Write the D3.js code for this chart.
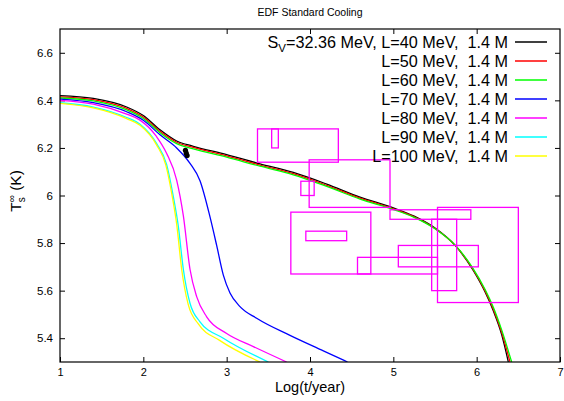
<!DOCTYPE html>
<html>
<head>
<meta charset="utf-8">
<script src="https://cdn.jsdelivr.net/npm/d3@7"></script>
<style>
  body { margin: 0; background: #fff; }
  svg { font-family: "Liberation Sans", Arial, sans-serif; }
</style>
</head>
<body>
<svg id="chart" width="564" height="401"></svg>
<script>
/* Chart data */
const xTicks = [1, 2, 3, 4, 5, 6, 7];
const yTicks = [5.4, 5.6, 5.8, 6.0, 6.2, 6.4, 6.6];

const seriesNames = ["L40", "L50", "L60", "L70", "L80", "L90", "L100"];
const seriesColors = ["#000000", "#ff0000", "#00ff00", "#0000ff", "#ff00ff", "#00ffff", "#ffff00"];
const legendLabels = [
  "=32.36 MeV, L=40 MeV,  1.4 M",
  "L=50 MeV,  1.4 M",
  "L=60 MeV,  1.4 M",
  "L=70 MeV,  1.4 M",
  "L=80 MeV,  1.4 M",
  "L=90 MeV,  1.4 M",
  "L=100 MeV,  1.4 M"
];

// [log t, log Ts]
const curveL40 = [[1.0,6.42],[1.4,6.408],[1.8,6.372],[2.0,6.336],[2.2,6.276],[2.4,6.229],[2.6,6.207],[3.0,6.172],[3.4,6.133],[3.8,6.097],[4.2,6.048],[4.6,5.993],[5.0,5.948],[5.25,5.913],[5.5,5.863],[5.75,5.787],[5.95,5.69],[6.1,5.595],[6.2,5.515],[6.3,5.415],[6.38,5.3]];
const curveL50 = [[1.0,6.415],[1.4,6.403],[1.8,6.366],[2.0,6.330],[2.2,6.270],[2.4,6.224],[2.6,6.202],[3.0,6.167],[3.4,6.128],[3.8,6.092],[4.2,6.043],[4.6,5.989],[5.0,5.944],[5.25,5.910],[5.5,5.861],[5.75,5.787],[5.95,5.693],[6.1,5.600],[6.2,5.522],[6.3,5.425],[6.40,5.3]];
const curveL60 = [[1.0,6.41],[1.4,6.398],[1.8,6.360],[2.0,6.324],[2.2,6.264],[2.4,6.218],[2.6,6.196],[3.0,6.161],[3.4,6.123],[3.8,6.087],[4.2,6.038],[4.6,5.985],[5.0,5.941],[5.25,5.908],[5.5,5.860],[5.75,5.788],[5.95,5.697],[6.1,5.606],[6.2,5.530],[6.3,5.435],[6.42,5.3]];
const curveL70 = [[1.0,6.405],[1.4,6.390],[1.8,6.352],[2.0,6.316],[2.2,6.255],[2.4,6.200],[2.56,6.135],[2.68,6.062],[2.8,5.91],[2.88,5.79],[2.96,5.665],[3.04,5.59],[3.16,5.533],[3.36,5.484],[3.76,5.412],[4.16,5.347],[4.45,5.30]];
const curveL80 = [[1.0,6.40],[1.4,6.384],[1.8,6.342],[1.96,6.317],[2.16,6.247],[2.28,6.177],[2.4,6.065],[2.48,5.915],[2.56,5.69],[2.64,5.575],[2.76,5.49],[3.0,5.42],[3.32,5.365],[3.72,5.30]];
const curveL90 = [[1.0,6.39],[1.4,6.372],[1.8,6.328],[1.96,6.300],[2.16,6.218],[2.28,6.13],[2.36,5.995],[2.42,5.87],[2.48,5.69],[2.56,5.547],[2.68,5.469],[2.96,5.40],[3.5,5.30]];
const curveL100 = [[1.0,6.387],[1.4,6.368],[1.8,6.323],[1.96,6.295],[2.16,6.212],[2.27,6.128],[2.35,5.99],[2.40,5.88],[2.46,5.69],[2.54,5.54],[2.66,5.46],[2.92,5.39],[3.4,5.30]];

// Observation boxes: [xMin, xMax, yMin, yMax]
const boxes = [
  [3.37, 4.34, 6.14, 6.28],
  [3.54, 3.62, 6.20, 6.28],
  [3.99, 4.96, 5.95, 6.15],
  [3.89, 4.05, 6.00, 6.06],
  [3.77, 4.73, 5.67, 5.93],
  [3.95, 4.44, 5.81, 5.85],
  [4.96, 5.93, 5.90, 5.94],
  [5.46, 5.76, 5.60, 5.90],
  [5.53, 6.50, 5.55, 5.95],
  [5.06, 6.02, 5.70, 5.79],
  [4.57, 5.53, 5.67, 5.74]
];

// Black data point cluster
const dotPoints = [[2.505, 6.19], [2.515, 6.178], [2.525, 6.168]];

const curves = [curveL40, curveL50, curveL60, curveL70, curveL80, curveL90, curveL100];

/* Layout */
const margin = { left: 60, right: 4, top: 29, bottom: 39 };
const width = 564, height = 401;

const svg = d3.select("#chart");

const x = d3.scaleLinear().domain([1, 7]).range([margin.left, width - margin.right]);
const y = d3.scaleLinear().domain([5.3, 6.7]).range([height - margin.bottom, margin.top]);

svg.append("defs").append("clipPath").attr("id", "plot-clip")
  .append("rect")
  .attr("x", x(1)).attr("y", y(6.7))
  .attr("width", x(7) - x(1)).attr("height", y(5.3) - y(6.7));

// Title
svg.append("text")
  .attr("x", (x(1) + x(7)) / 2)
  .attr("y", 16)
  .attr("text-anchor", "middle")
  .attr("font-size", 10.5)
  .text("EDF Standard Cooling");

// Axes with inward ticks on all four sides
const tickLen = 5;
const fmtY = d => d3.format("")(+d.toFixed(1));

svg.append("g")
  .attr("transform", `translate(0,${y(5.3)})`)
  .call(d3.axisBottom(x).tickValues(xTicks).tickSizeInner(-tickLen).tickSizeOuter(0).tickPadding(6).tickFormat(d3.format("d")))
  .call(g => g.select(".domain").remove())
  .call(g => g.selectAll("text").attr("font-size", 11).attr("font-family", null));

svg.append("g")
  .attr("transform", `translate(0,${y(6.7)})`)
  .call(d3.axisTop(x).tickValues(xTicks.slice(1, -1)).tickSizeInner(-tickLen).tickSizeOuter(0).tickFormat(""))
  .call(g => g.select(".domain").remove());

svg.append("g")
  .attr("transform", `translate(${x(1)},0)`)
  .call(d3.axisLeft(y).tickValues(yTicks).tickSizeInner(-tickLen).tickSizeOuter(0).tickPadding(7).tickFormat(fmtY))
  .call(g => g.select(".domain").remove())
  .call(g => g.selectAll("text").attr("font-size", 11.5).attr("font-family", null));

svg.append("g")
  .attr("transform", `translate(${x(7)},0)`)
  .call(d3.axisRight(y).tickValues(yTicks).tickSizeInner(-tickLen).tickSizeOuter(0).tickFormat(""))
  .call(g => g.select(".domain").remove());

// Plot data
const plot = svg.append("g").attr("clip-path", "url(#plot-clip)");

const line = d3.line()
  .x(d => x(d[0]))
  .y(d => y(d[1]))
  .curve(d3.curveMonotoneX);

plot.selectAll("path.curve")
  .data(curves)
  .join("path")
  .attr("class", "curve")
  .attr("d", line)
  .attr("fill", "none")
  .attr("stroke", (d, i) => seriesColors[i])
  .attr("stroke-width", 1.3);

plot.selectAll("rect.box")
  .data(boxes)
  .join("rect")
  .attr("class", "box")
  .attr("x", d => x(d[0]))
  .attr("y", d => y(d[3]))
  .attr("width", d => x(d[1]) - x(d[0]))
  .attr("height", d => y(d[2]) - y(d[3]))
  .attr("fill", "none")
  .attr("stroke", "#ff00ff")
  .attr("stroke-width", 1.3);

plot.selectAll("circle.dot")
  .data(dotPoints)
  .join("circle")
  .attr("class", "dot")
  .attr("cx", d => x(d[0]))
  .attr("cy", d => y(d[1]))
  .attr("r", 2.6)
  .attr("fill", "#000");

// Frame
svg.append("rect")
  .attr("x", x(1)).attr("y", y(6.7))
  .attr("width", x(7) - x(1)).attr("height", y(5.3) - y(6.7))
  .attr("fill", "none")
  .attr("stroke", "#000")
  .attr("stroke-width", 1.2);

// Legend
const legend = svg.append("g").attr("font-size", 16.2);
const legendRows = legend.selectAll("g")
  .data(seriesNames)
  .join("g")
  .attr("transform", (d, i) => `translate(0,${42 + i * 19})`);

legendRows.append("line")
  .attr("x1", 515).attr("x2", 547)
  .attr("stroke", (d, i) => seriesColors[i])
  .attr("stroke-width", 1.5);

legendRows.append("text")
  .attr("x", 508)
  .attr("dy", "0.36em")
  .attr("text-anchor", "end")
  .style("white-space", "pre")
  .each(function(d, i) {
    const t = d3.select(this);
    if (i === 0) {
      t.append("tspan").text("S");
      t.append("tspan").attr("font-size", 11.5).attr("dy", 4).text("V");
      t.append("tspan").attr("dy", -4).text(legendLabels[0]);
    } else {
      t.text(legendLabels[i]);
    }
  });

// Axis labels
svg.append("text")
  .attr("x", (x(1) + x(7)) / 2)
  .attr("y", 392)
  .attr("text-anchor", "middle")
  .attr("font-size", 14.5)
  .text("Log(t/year)");

const yLabel = svg.append("text")
  .attr("transform", `translate(21,191) rotate(-90)`)
  .attr("text-anchor", "middle")
  .attr("font-size", 15.5)
  .style("white-space", "pre");
yLabel.append("tspan").text("T");
yLabel.append("tspan").attr("font-size", 10).attr("dy", 4).text("s");
yLabel.append("tspan").attr("font-size", 10).attr("dx", -5).attr("dy", -10).text("\u221e");
yLabel.append("tspan").attr("dy", 6).text(" (K)");
</script>
</body>
</html>
